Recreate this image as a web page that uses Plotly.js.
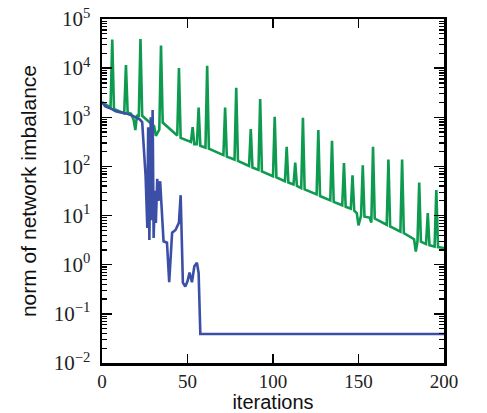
<!DOCTYPE html>
<html>
<head>
<meta charset="utf-8">
<script src="https://cdn.plot.ly/plotly-3.0.1.min.js"></script>
<style>html,body{margin:0;padding:0;background:#fff;}#chart{width:487px;height:413px;}</style>
</head>
<body>
<div id="chart"></div>
<script>
// Green series (vertices)
const greenIter = [0,5,6,7,13,14,15,17,18.5,19.5,20.5,21.5,22.5,23.5,30.5,31.5,33.5,34.5,35.5,44,45,46,52,53,54,55.5,56.5,57.5,60.5,61.5,62.5,71,72,73,77.5,78.5,79.5,86,87,88,91.5,92.5,93.5,100,101,102,107,108,109,112,113,114,116.5,117.5,118.5,125.5,126.5,127.5,133.5,134.5,135.5,140.5,141.5,142.5,145.5,146.5,147.5,149,150,151.5,152.5,153.5,156.5,157.5,158.5,159.5,166.5,167.5,168.5,174.5,175.5,176.5,182.5,183.5,184.5,185.5,186.5,189.5,190.5,191.5,194.5,195.5,196.5,200];
const greenVal = [2000,1585,38000,1480,1200,11500,1260,1175,890,550,1120,1000,39000,1070,660,420,560,29000,780,425,10000,380,316,630,282,282,1585,263,240,11200,229,170,1585,158,138,3980,129,102,575,95,85,2340,79,63,1020,60,50,251,47,43,120,40,36,980,34,27,550,25,20.4,331,19,16.2,117,15.1,13.8,66,12.6,11.2,6.3,10,105,9.5,9.1,7.2,251,8.7,6.5,138,6.0,4.7,138,4.4,3.3,1.86,3.0,47,2.95,2.63,11.2,2.5,2.34,33,2.29,2.19];

// Blue series
const blueIter = [0,2,5,8,11,14,18,22,23.5,24.5,25.5,26.5,27,27.7,28.5,29,29.6,30.2,31,31.5,32.3,33,34,36,38,39.3,41,43,45,46,47.3,48.7,50,51.2,52.6,54,55.5,56.5,57.5,200];
const blueVal = [2040,1660,1510,1320,1260,1200,1070,910,800,160,63,5.6,630,3.2,1000,8,1400,3.5,32,7.1,56,20,50,3.0,2.8,0.44,4.5,5.1,7.2,26,0.43,0.36,0.46,0.69,0.44,0.93,1.1,0.68,0.039,0.039];

// Axis ticks
const xTickVals = [0,50,100,150,200];
const xTickText = ['0','50','100','150','200'];
const yTickVals = [1e-2,1e-1,1e0,1e1,1e2,1e3,1e4,1e5];
const yTickText = ['10<sup>−2</sup>','10<sup>−1</sup>','10<sup>0</sup>','10<sup>1</sup>','10<sup>2</sup>','10<sup>3</sup>','10<sup>4</sup>','10<sup>5</sup>'];

const yMinor = [];
for (let e = -2; e < 5; e++) { for (let m = 2; m <= 9; m++) yMinor.push(m * Math.pow(10, e)); }

const traces = [
  {x: greenIter, y: greenVal, type: 'scatter', mode: 'lines', line: {color: '#0E9B50', width: 2.6}, hoverinfo: 'skip'},
  {x: blueIter, y: blueVal, type: 'scatter', mode: 'lines', line: {color: '#3C4FA6', width: 2.6}, hoverinfo: 'skip'}
];

const serif = '"Liberation Serif", "DejaVu Serif", serif';
const sans = '"Liberation Sans", Arial, sans-serif';

const layout = {
  width: 487, height: 413,
  margin: {l: 102, r: 43, t: 19, b: 50},
  paper_bgcolor: '#fff', plot_bgcolor: '#fff',
  showlegend: false,
  xaxis: {
    range: [0, 200], showgrid: false, zeroline: false,
    tickmode: 'array', tickvals: xTickVals, ticktext: xTickText,
    ticks: 'inside', ticklen: 9, tickwidth: 1.5, tickcolor: '#000',
    showline: true, linecolor: '#000', linewidth: 2.5, mirror: 'ticks',
    tickfont: {family: serif, size: 19, color: '#222'},
    title: {text: 'iterations', font: {family: sans, size: 20, color: '#111'}, standoff: 4}
  },
  yaxis: {
    type: 'log', range: [-2, 5], showgrid: false, zeroline: false,
    tickmode: 'array', tickvals: yTickVals, ticktext: yTickText,
    ticks: 'inside', ticklen: 10, tickwidth: 1.5, tickcolor: '#000',
    minor: {tickmode: 'array', tickvals: yMinor, ticks: 'inside', ticklen: 5, tickwidth: 1.2, tickcolor: '#000', showgrid: false},
    showline: true, linecolor: '#000', linewidth: 2.5, mirror: 'ticks',
    ticklabelstandoff: 5,
    tickfont: {family: serif, size: 21, color: '#222'},
    title: {text: 'norm of network imbalance', font: {family: sans, size: 21, color: '#111'}, standoff: 12}
  }
};

Plotly.newPlot('chart', traces, layout, {staticPlot: true, displayModeBar: false});
</script>
</body>
</html>
